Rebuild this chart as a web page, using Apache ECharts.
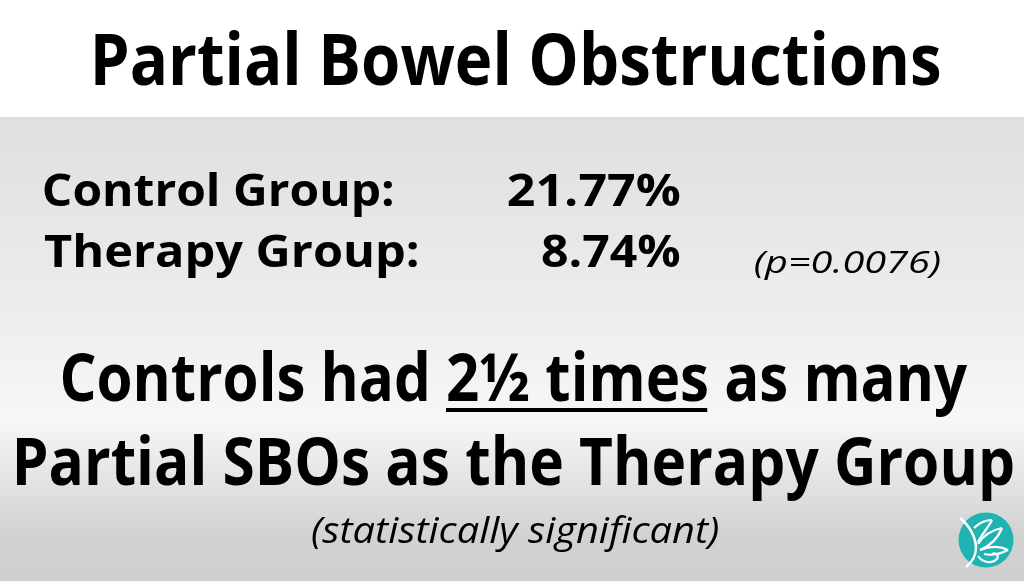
<!DOCTYPE html>
<html>
<head>
<meta charset="utf-8">
<title>Partial Bowel Obstructions</title>
<script src="https://cdn.jsdelivr.net/npm/echarts@6/dist/echarts.min.js"></script>
<style>
  html, body { margin: 0; padding: 0; background: #fff; }
  #slide { width: 1024px; height: 581px; }
</style>
</head>
<body>
<div id="slide"></div>
<script>
// values
var slideTitle = "Partial Bowel Obstructions";
var groups = ["Control Group:", "Therapy Group:"];
var rates = [21.77, 8.74];
var pValue = 0.0076;
var headline = ["Controls had ", "2\u00BD times", " as many"];
var headline2 = "Partial SBOs as the Therapy Group";
var footnote = "(statistically significant)";

var FONT = "'Open Sans', 'Noto Sans', sans-serif";
var ctx = document.createElement("canvas").getContext("2d");

// measure a string, return what we need to place it by its ink box
function measure(text, font) {
  ctx.font = font;
  ctx.textBaseline = "alphabetic";
  var m = ctx.measureText(text);
  ctx.textBaseline = "middle";
  var mm = ctx.measureText(text);
  return {
    adv: m.width,
    left: m.actualBoundingBoxLeft,
    ink: m.actualBoundingBoxLeft + m.actualBoundingBoxRight,
    drop: m.actualBoundingBoxAscent - mm.actualBoundingBoxAscent
  };
}

// text squeezed so that its ink runs from left to right, sitting on baseline
function fitText(text, font, left, right, baseline) {
  var m = measure(text, font);
  var s = (right - left) / m.ink;
  return {
    type: "text",
    x: left + m.left * s,
    y: baseline - m.drop,
    scaleX: s,
    style: {
      text: text,
      font: font,
      fill: "#000",
      textAlign: "left",
      textVerticalAlign: "middle"
    }
  };
}

var elements = [];

// white header + grey panel
elements.push({
  type: "rect", shape: { x: 0, y: 0, width: 1024, height: 117 },
  style: { fill: "#ffffff" }, z: 0
});
elements.push({
  type: "rect", shape: { x: 0, y: 117, width: 1024, height: 464 },
  style: {
    fill: new echarts.graphic.LinearGradient(0, 0, 0, 1, [
      { offset: 0, color: "#dfdfdf" },
      { offset: 0.4, color: "#ececec" },
      { offset: 0.65, color: "#f7f7f7" },
      { offset: 0.9, color: "#d2d2d2" },
      { offset: 1, color: "#cfcfcf" }
    ])
  }, z: 0
});

var bold = function (px) { return "bold " + px + "px " + FONT; };
var ital = function (px) { return "italic " + px + "px " + FONT; };

elements.push(fitText(slideTitle, bold(72), 95, 940, 85));

// group rows
var labelRight = [393, 418];
var valueLeft = [508, 542];
var rowBase = [206, 267];
groups.forEach(function (g, i) {
  elements.push(fitText(g, bold(44), 44, labelRight[i], rowBase[i]));
  elements.push(fitText(rates[i].toFixed(2) + "%", bold(44), valueLeft[i], 680, rowBase[i]));
});
elements.push(fitText("(p=" + pValue.toFixed(4) + ")", ital(31), 755, 940, 273));

// headline with underlined part
var line1 = headline.join("");
var l1 = fitText(line1, bold(67), 62, 968, 401);
elements.push(l1);
var pre = measure(headline[0], bold(67));
var mid = measure(headline[1], bold(67));
var ulStart = l1.x + pre.adv * l1.scaleX;
elements.push({
  type: "rect",
  shape: { x: ulStart, y: 408, width: (mid.adv - 2) * l1.scaleX, height: 4 },
  style: { fill: "#000" }
});
elements.push(fitText(headline2, bold(67), 17, 1013, 485));
elements.push(fitText(footnote, ital(36), 312, 718, 543));

// small teal logo in the corner
function stroke(x1, y1, c1x, c1y, c2x, c2y, x2, y2, w) {
  return {
    type: "bezierCurve",
    shape: { x1: x1, y1: y1, cpx1: c1x, cpy1: c1y, cpx2: c2x, cpy2: c2y, x2: x2, y2: y2 },
    style: { stroke: "#fff", lineWidth: w, fill: null }
  };
}
elements.push({
  type: "group", x: 986, y: 540,
  children: [
    { type: "circle", shape: { cx: 0, cy: 0, r: 27.5 }, style: { fill: "#1fb3b1" } },
    stroke(-26, -22, -16, -14, -10, -2, -10, 8, 2.6),
    stroke(-10, 8, -10, 16, -14, 22, -20, 27, 2.4),
    stroke(-12, -12, -6, -18, 0, -20, 6, -20, 2.2),
    stroke(6, -20, 2, -12, -4, -6, -8, 2, 2.2),
    stroke(-8, 4, -2, -6, 6, -10, 16, -12, 2.2),
    stroke(16, -12, 12, -2, 4, 6, -6, 10, 2.2),
    stroke(-6, 10, 4, 6, 14, 6, 22, 10, 2.2),
    stroke(22, 10, 14, 14, 6, 16, -2, 14, 2.2),
    stroke(-8, 16, -4, 22, 4, 24, 10, 20, 2.2),
    stroke(10, 20, 14, 16, 10, 12, 6, 14, 2.2)
  ]
});

var chart = echarts.init(document.getElementById("slide"), null, { renderer: "canvas" });
chart.setOption({
  animation: false,
  graphic: { elements: elements }
});
</script>
</body>
</html>
